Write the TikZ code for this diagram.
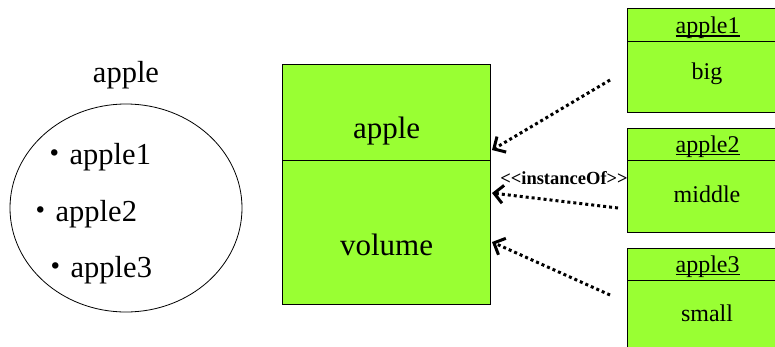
\documentclass[tikz,border=0pt]{standalone}
\usepackage{fontspec}
\setmainfont{Liberation Serif}
\newfontfamily\cjk{Noto Sans CJK JP}
\usetikzlibrary{shapes.geometric,arrows.meta}
\definecolor{leaf}{RGB}{153,255,51}
\newcommand{\objname}[1]{\setbox0\hbox{#1}\rlap{\rule[-3pt]{\wd0}{1.6pt}}\box0}
\tikzset{
  px/.style={x=1pt,y=-1pt},
  part/.style={draw=black,line width=1.2pt,fill=leaf,inner sep=0pt,anchor=north west},
  bigtxt/.style={font=\fontsize{31}{31}\selectfont},
  objtxt/.style={font=\fontsize{24}{24}\selectfont},
  itemtxt/.style={font=\fontsize{30.5}{30.5}\selectfont,anchor=west,inner sep=0pt},
  instof/.style={line width=3pt,dash pattern=on 3pt off 3pt,
    -{Straight Barb[length=9pt,width=18pt,line width=3pt]}}
}
\begin{document}
\begin{tikzpicture}[px]
\useasboundingbox (0,0) rectangle (775,346);
\clip (0,0) rectangle (775,346);

% set of instances
\node[itemtxt,anchor=center] (setname) at (126,75) {apple};
\node[draw,line width=0.8pt,ellipse,minimum width=232pt,minimum height=208pt] (set) at (126,208) {};
\node[itemtxt] (i1) at (39,157) {{\cjk ・}apple1};
\node[itemtxt] (i2) at (25,214) {{\cjk ・}apple2};
\node[itemtxt] (i3) at (40,270) {{\cjk ・}apple3};

% class box
\node[part,minimum width=208pt,minimum height=96pt] (clshead) at (282,64) {};
\node[part,minimum width=208pt,minimum height=144pt] (clsbody) at (282,160) {};
\node[bigtxt] at ([yshift=-18pt]clshead.center) {apple};
\node[bigtxt] at ([yshift=-12pt]clsbody.center) {volume};

% instance boxes
\node[part,minimum width=158pt,minimum height=33pt] (o1h) at (627,8) {};
\node[part,minimum width=158pt,minimum height=71pt] (o1b) at (627,41) {};
\node[part,minimum width=158pt,minimum height=32pt] (o2h) at (627,128) {};
\node[part,minimum width=158pt,minimum height=72pt] (o2b) at (627,160) {};
\node[part,minimum width=158pt,minimum height=32pt] (o3h) at (627,248) {};
\node[part,minimum width=158pt,minimum height=80pt] (o3b) at (627,280) {};
\node[objtxt] at ([xshift=1pt,yshift=-3pt]o1h.center) {\objname{apple1}};
\node[objtxt] at ([xshift=1pt,yshift=-2pt]o2h.center) {\objname{apple2}};
\node[objtxt] at ([xshift=1pt,yshift=-2pt]o3h.center) {\objname{apple3}};
\node[objtxt] at (707,74) {big};
\node[objtxt] at (707,194) {middle};
\node[objtxt] at (707,313) {small};

% instanceOf dependencies
\coordinate (s1) at (610,80);
\coordinate (s2) at (618,208);
\coordinate (s3) at (610,295);
\coordinate (t1) at (492,150);
\coordinate (t2) at (492,193);
\coordinate (t3) at (492,242);
\draw[instof] (s1) -- (t1);
\draw[instof] (s2) -- (t2);
\draw[instof] (s3) -- (t3);
\node[font=\fontsize{18.5}{18.5}\selectfont\bfseries,inner sep=0pt] (lbl) at (564,178) {<{}<instanceOf>{}>};
\end{tikzpicture}
\end{document}
